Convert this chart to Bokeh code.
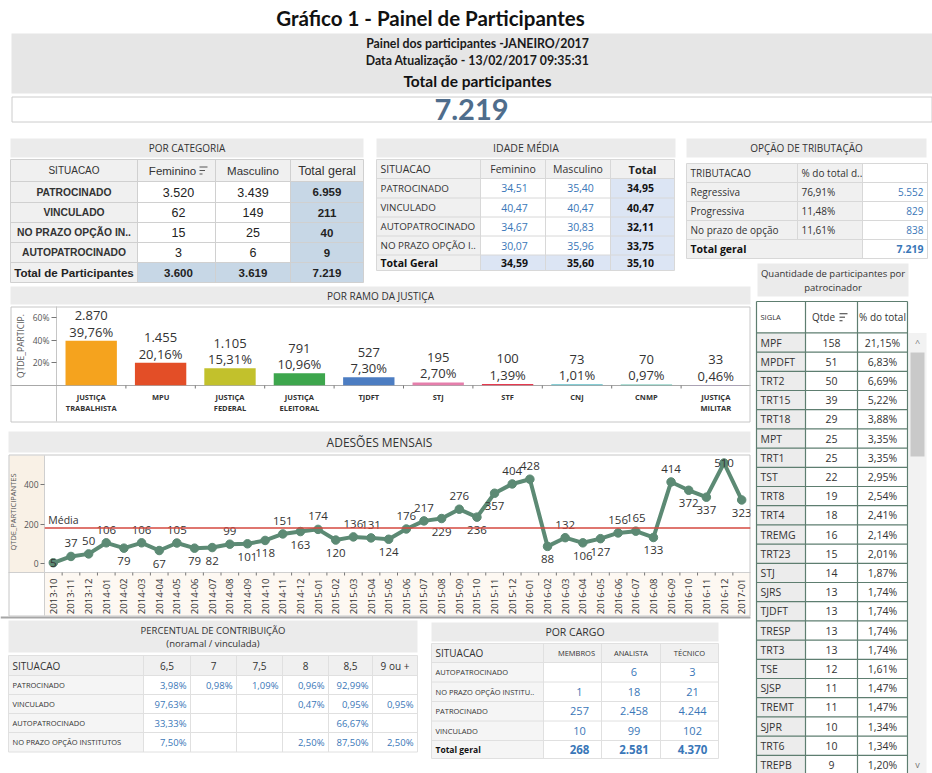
import math
import json
from bokeh.plotting import figure
from bokeh.models import (ColumnDataSource, Range1d, FactorRange, GridBox, FixedTicker,
                          NumeralTickFormatter, CategoricalAxis, Span, CustomJSTickFormatter)
from bokeh.core.properties import value
from bokeh.embed import file_html
from bokeh.resources import INLINE

# ------------------------------------------------------------------ DATA
titulo = "Gráfico 1 - Painel de Participantes"
painel_linhas = ["Painel dos participantes -JANEIRO/2017",
                 "Data Atualização - 13/02/2017 09:35:31",
                 "Total de participantes"]

cat_colunas = ["SITUACAO", "Feminino", "Masculino", "Total geral"]
cat_situacao = ["PATROCINADO", "VINCULADO", "NO PRAZO OPÇÃO IN..", "AUTOPATROCINADO"]
cat_feminino = [3520, 62, 15, 3]
cat_masculino = [3439, 149, 25, 6]

idade_colunas = ["SITUACAO", "Feminino", "Masculino", "Total"]
idade_situacao = ["PATROCINADO", "VINCULADO", "AUTOPATROCINADO", "NO PRAZO OPÇÃO I.."]
idade_feminino = [34.51, 40.47, 34.67, 30.07]
idade_masculino = [35.40, 40.47, 30.83, 35.96]
idade_total = [34.95, 40.47, 32.11, 33.75]
idade_total_geral = [34.59, 35.60, 35.10]

trib_colunas = ["TRIBUTACAO", "% do total d.."]
trib_tipo = ["Regressiva", "Progressiva", "No prazo de opção"]
trib_pct = [76.91, 11.48, 11.61]
trib_qtde = [5552, 829, 838]

ramo_cats = ["JUSTIÇA TRABALHISTA", "MPU", "JUSTIÇA FEDERAL", "JUSTIÇA ELEITORAL", "TJDFT",
             "STJ", "STF", "CNJ", "CNMP", "JUSTIÇA MILITAR"]
ramo_rotulo_l1 = ["JUSTIÇA", "MPU", "JUSTIÇA", "JUSTIÇA", "TJDFT", "STJ", "STF", "CNJ", "CNMP", "JUSTIÇA"]
ramo_rotulo_l2 = ["TRABALHISTA", "", "FEDERAL", "ELEITORAL", "", "", "", "", "", "MILITAR"]
ramo_qtde = [2870, 1455, 1105, 791, 527, 195, 100, 73, 70, 33]
ramo_pct = [39.76, 20.16, 15.31, 10.96, 7.30, 2.70, 1.39, 1.01, 0.97, 0.46]
ramo_yticks = [0.2, 0.4, 0.6]

meses = ["2013-10", "2013-11", "2013-12",
         "2014-01", "2014-02", "2014-03", "2014-04", "2014-05", "2014-06",
         "2014-07", "2014-08", "2014-09", "2014-10", "2014-11", "2014-12",
         "2015-01", "2015-02", "2015-03", "2015-04", "2015-05", "2015-06",
         "2015-07", "2015-08", "2015-09", "2015-10", "2015-11", "2015-12",
         "2016-01", "2016-02", "2016-03", "2016-04", "2016-05", "2016-06",
         "2016-07", "2016-08", "2016-09", "2016-10", "2016-11", "2016-12",
         "2017-01"]
adesoes = [5, 37, 50, 106, 79, 106, 67, 105, 79, 82, 99, 101, 118, 151, 163, 174, 120, 136, 131, 124,
           176, 217, 229, 276, 236, 357, 404, 428, 88, 132, 106, 127, 156, 165, 133, 414, 372, 337, 510, 323]
adesoes_yticks = [0, 200, 400]

pc_colunas = ["6,5", "7", "7,5", "8", "8,5", "9 ou +"]
pc_situacao = ["PATROCINADO", "VINCULADO", "AUTOPATROCINADO", "NO PRAZO OPÇÃO INSTITUTOS"]
pc_patrocinado = [3.98, 0.98, 1.09, 0.96, 92.99, None]
pc_vinculado = [97.63, None, None, 0.47, 0.95, 0.95]
pc_autopatrocinado = [33.33, None, None, None, 66.67, None]
pc_no_prazo = [7.50, None, None, 2.50, 87.50, 2.50]

cargo_colunas = ["SITUACAO", "MEMBROS", "ANALISTA", "TÉCNICO"]
cargo_situacao = ["AUTOPATROCINADO", "NO PRAZO OPÇÃO INSTITU..", "PATROCINADO", "VINCULADO"]
cargo_membros = [None, 1, 257, 10]
cargo_analista = [6, 18, 2458, 99]
cargo_tecnico = [3, 21, 4244, 102]

patroc_sigla = ["MPF", "MPDFT", "TRT2", "TRT15", "TRT18", "MPT", "TRT1", "TST", "TRT8", "TRT4",
                "TREMG", "TRT23", "STJ", "SJRS", "TJDFT", "TRESP", "TRT3", "TSE", "SJSP", "TREMT",
                "SJPR", "TRT6", "TREPB"]
patroc_qtde = [158, 51, 50, 39, 29, 25, 25, 22, 19, 18, 16, 15, 14, 13, 13, 13, 13, 12, 11, 11, 10, 10, 9]
patroc_pct = [21.15, 6.83, 6.69, 5.22, 3.88, 3.35, 3.35, 2.95, 2.54, 2.41, 2.14, 2.01, 1.87, 1.74,
              1.74, 1.74, 1.74, 1.61, 1.47, 1.47, 1.34, 1.34, 1.20]

# ------------------------------------------------------------------ STYLE
SEG = "Open Sans"
ARI = "Liberation Sans"
CAL = "Lato"
BAND = "#ebebeb"
HDR = "#f0f0f0"
BLUE = "#3a77b8"
LBLUE = "#c7d7e6"
LAV = "#dce5f4"
GREEN_B = "#5e7e70"
ramo_cores = ["#f5a31e", "#e34e27", "#c2c12c", "#3da64d", "#4c7dc2", "#e57eab", "#e63a4f",
              "#5fbcc6", "#62bfae", "#b08ed6"]
VERDE = "#5c8a74"
adesoes_rotulo_pos = ["c", "a", "a", "a", "b", "a", "b", "a", "b", "b",
                      "a", "b", "b", "a", "b", "a", "b", "a", "a", "b",
                      "a", "a", "b", "a", "b", "b", "a", "a", "b", "a",
                      "b", "b", "a", "a", "b", "a", "b", "b", "c", "b"]

# chart frames (page pixels)
BAR_L, BAR_R, BAR_T, BAR_B = 56, 750, 306, 385
LIN_L, LIN_R, LIN_T, LIN_B = 44, 750, 455, 572


def br_int(n):
    return f"{n:,}".replace(",", ".")


def br_dec(v):
    return f"{v:.2f}".replace(".", ",")


def br_pct(v):
    return br_dec(v) + "%"


# ------------------------------------------------------------------ BACKGROUND CANVAS
W, H = 932, 773
Q = dict(l=[], r=[], t=[], b=[], c=[])
O = dict(l=[], r=[], t=[], b=[], c=[])
S = dict(x0=[], y0=[], x1=[], y1=[], c=[], w=[])
T = dict(x=[], y=[], s=[], size=[], style=[], color=[], align=[], font=[])


def fill(x0, y0, x1, y1, c):
    Q["l"].append(x0); Q["r"].append(x1); Q["t"].append(y0); Q["b"].append(y1); Q["c"].append(c)


def outline(x0, y0, x1, y1, c):
    O["l"].append(x0); O["r"].append(x1); O["t"].append(y0); O["b"].append(y1); O["c"].append(c)


def seg(x0, y0, x1, y1, c, w=1.0):
    S["x0"].append(x0); S["y0"].append(y0); S["x1"].append(x1); S["y1"].append(y1)
    S["c"].append(c); S["w"].append(w)


def txt(x, y, s, size, style="normal", color="#333333", align="center", font=SEG):
    T["x"].append(x); T["y"].append(y); T["s"].append(s); T["size"].append(f"{size}px")
    T["style"].append(style); T["color"].append(color); T["align"].append(align); T["font"].append(font)


def grid_lines(xs, ys, c, w=1.0):
    for y in ys:
        seg(xs[0], y, xs[-1], y, c, w)
    for x in xs:
        seg(x, ys[0], x, ys[-1], c, w)


def sort_icon(x, y):
    seg(x, y - 3.5, x + 8, y - 3.5, "#555555", 1.2)
    seg(x, y, x + 5.5, y, "#555555", 1.2)
    seg(x, y + 3.5, x + 3, y + 3.5, "#555555", 1.2)


total_part = sum(cat_feminino) + sum(cat_masculino)

# header
txt(430, 17, titulo, 20.5, "bold", "#111111", font=CAL)
fill(11, 33, 932, 93, "#e6e6e6")
txt(477, 43, painel_linhas[0], 12.3, "bold", "#1a1a1a", font=CAL)
txt(477, 60, painel_linhas[1], 12.3, "bold", "#1a1a1a", font=CAL)
txt(477, 80, painel_linhas[2], 15.5, "bold", "#111111", font=CAL)
fill(11, 96, 932, 121, "#ffffff")
outline(11.5, 96.5, 931.5, 121.5, "#cccccc")
txt(471, 109, br_int(total_part), 29, "bold", "#4f6d8c", font=CAL)

# POR CATEGORIA
fill(10, 138, 363, 157, BAND)
txt(186.5, 147.5, "POR CATEGORIA", 10)
cx = [10, 137, 215, 290, 363]
cy = [159, 181, 202, 222, 242, 262, 282]
fill(cx[0], cy[0], cx[4], cy[1], HDR)
ym = (cy[0] + cy[1]) / 2
txt(73.5, ym, cat_colunas[0], 10, font=ARI)
txt(172, ym, cat_colunas[1], 11.5, font=ARI)
sort_icon(199, ym)
txt(252.5, ym, cat_colunas[2], 11.5, font=ARI)
txt(326.5, ym, cat_colunas[3], 12.5, font=ARI)
for i, lab in enumerate(cat_situacao):
    y0, y1 = cy[i + 1], cy[i + 2]
    ym = (y0 + y1) / 2
    fill(cx[0], y0, cx[1], y1, HDR)
    fill(cx[1], y0, cx[3], y1, "#ffffff")
    fill(cx[3], y0, cx[4], y1, LBLUE)
    txt(73.5, ym, lab, 10.3, "bold", "#333333", font=ARI)
    txt(178, ym, br_int(cat_feminino[i]), 12.5, color="#222222", font=ARI)
    txt(252.5, ym, br_int(cat_masculino[i]), 12.5, color="#222222", font=ARI)
    txt(326.5, ym, br_int(cat_feminino[i] + cat_masculino[i]), 11.5, "bold", "#222222", font=ARI)
y0, y1 = cy[5], cy[6]
ym = (y0 + y1) / 2
fill(cx[0], y0, cx[1], y1, HDR)
fill(cx[1], y0, cx[4], y1, LBLUE)
txt(73.5, ym, "Total de Participantes", 11.6, "bold", "#222222", font=ARI)
txt(178, ym, br_int(sum(cat_feminino)), 11.5, "bold", "#222222", font=ARI)
txt(252.5, ym, br_int(sum(cat_masculino)), 11.5, "bold", "#222222", font=ARI)
txt(326.5, ym, br_int(total_part), 11.5, "bold", "#222222", font=ARI)
grid_lines(cx, cy, "#d0d0d0")

# IDADE MÉDIA
fill(376, 138, 675, 157, BAND)
txt(525.5, 147.5, "IDADE MÉDIA", 10.5)
ix = [376, 480, 545, 610, 674]
iy = [159, 178, 197.5, 216.5, 235.5, 254.5, 270]
fill(ix[0], iy[0], ix[4], iy[1], HDR)
ym = (iy[0] + iy[1]) / 2
txt(380, ym, idade_colunas[0], 10.5, align="left")
txt(512.5, ym, idade_colunas[1], 10.5)
txt(577.5, ym, idade_colunas[2], 10.5)
txt(642, ym, idade_colunas[3], 11, "bold", "#222222")
for i, lab in enumerate(idade_situacao):
    y0, y1 = iy[i + 1], iy[i + 2]
    ym = (y0 + y1) / 2
    fill(ix[0], y0, ix[1], y1, HDR)
    fill(ix[1], y0, ix[3], y1, "#ffffff")
    fill(ix[3], y0, ix[4], y1, LAV)
    txt(380, ym, lab, 9.8, align="left")
    txt(514, ym, br_dec(idade_feminino[i]), 10.5, color=BLUE)
    txt(580, ym, br_dec(idade_masculino[i]), 10.5, color=BLUE)
    txt(640, ym, br_dec(idade_total[i]), 10.5, "bold", "#111111")
y0, y1 = iy[5], iy[6]
ym = (y0 + y1) / 2
fill(ix[0], y0, ix[1], y1, HDR)
fill(ix[1], y0, ix[4], y1, LAV)
txt(380, ym, "Total Geral", 10.5, "bold", "#111111", align="left")
for k, xc in enumerate([514, 580, 640]):
    txt(xc, ym, br_dec(idade_total_geral[k]), 10.5, "bold", "#111111")
grid_lines(ix, iy, "#d8d8d8")

# OPÇÃO DE TRIBUTAÇÃO
fill(686, 138, 926, 157, BAND)
txt(806, 147.5, "OPÇÃO DE TRIBUTAÇÃO", 10)
ox = [686, 797, 862, 927]
oy = [163, 182, 201, 220, 239, 258]
fill(ox[0], oy[0], ox[2], oy[1], HDR)
fill(ox[2], oy[0], ox[3], oy[1], "#ffffff")
ym = (oy[0] + oy[1]) / 2
txt(690, ym, trib_colunas[0], 10, align="left")
txt(801, ym, trib_colunas[1], 10, align="left")
for i, lab in enumerate(trib_tipo):
    y0, y1 = oy[i + 1], oy[i + 2]
    ym = (y0 + y1) / 2
    fill(ox[0], y0, ox[2], y1, HDR)
    fill(ox[2], y0, ox[3], y1, "#ffffff")
    txt(690, ym, lab, 10, align="left")
    txt(801, ym, br_pct(trib_pct[i]), 10, align="left")
    txt(923, ym, br_int(trib_qtde[i]), 10, color=BLUE, align="right")
y0, y1 = oy[4], oy[5]
ym = (y0 + y1) / 2
fill(ox[0], y0, ox[2], y1, HDR)
fill(ox[2], y0, ox[3], y1, "#ffffff")
txt(690, ym, "Total geral", 10.5, "bold", "#111111", align="left")
txt(923, ym, br_int(sum(trib_qtde)), 10.5, "bold", BLUE, align="right")
for y in oy:
    seg(ox[0], y, ox[3], y, "#d8d8d8")
for x in (ox[0], ox[2], ox[3]):
    seg(x, oy[0], x, oy[-1], "#d8d8d8")
seg(ox[1], oy[0], ox[1], oy[4], "#d8d8d8")

# QUANTIDADE POR PATROCINADOR
fill(757, 263, 908, 296, BAND)
txt(832.5, 273, "Quantidade de participantes por", 9.5)
txt(832.5, 287, "patrocinador", 9.5)
px = [756, 805, 857, 907]
ph0, ph1, rh = 301, 332.4, 19.2
fill(px[0], ph0, px[3], ph1, "#ffffff")
ym = (ph0 + ph1) / 2
txt(760, ym, "SIGLA", 7.5, align="left")
txt(823, ym, "Qtde", 10)
sort_icon(839, ym)
txt(882, ym, "% do total", 10)
pys = [ph0, ph1]
for i, sg in enumerate(patroc_sigla):
    y0 = ph1 + i * rh
    y1 = y0 + rh
    pys.append(y1)
    ym = (y0 + y1) / 2
    fill(px[0], y0, px[1], y1, "#ececec")
    fill(px[1], y0, px[3], y1, "#ffffff")
    txt(760, ym, sg, 10.5, align="left")
    txt(831, ym, str(patroc_qtde[i]), 10.5)
    txt(882, ym, br_pct(patroc_pct[i]), 10.5)
grid_lines(px, pys, GREEN_B, 1.2)
fill(908, 332.4, 926, 773, "#f2f2f2")
fill(910, 352, 924, 456, "#c9c9c9")
txt(917, 342, "^", 9, color="#777777")
txt(917, 764, "v", 9, color="#777777")

# POR RAMO DA JUSTIÇA panel decoration
fill(10, 286, 750, 304, BAND)
txt(380, 295, "POR RAMO DA JUSTIÇA", 10)
outline(10.5, 306.5, 749.5, 421.5, "#c6c6c6")
seg(BAR_L, BAR_T, BAR_L, 421, "#c6c6c6")
seg(10, BAR_B, 750, BAR_B, "#a8a8a8")
nb = len(ramo_cats)
for k in range(1, nb):
    xk = BAR_L + k * (BAR_R - BAR_L) / nb
    seg(xk, BAR_B, xk, BAR_B + 3, "#777777")

# ADESÕES MENSAIS panel decoration
fill(8, 431, 750, 452, BAND)
txt(379, 441.5, "ADESÕES MENSAIS", 12)
fill(9, LIN_T, LIN_L, LIN_B, "#f9f1e6")
fill(LIN_L, LIN_B, 750, 615, "#fdf8f2")
outline(8.5, 454.5, 749.5, 615.5, "#c6c6c6")
seg(LIN_L, LIN_T, LIN_L, 615, "#cfcfcf")
seg(8, LIN_B, 750, LIN_B, "#cfcfcf")
seg(0, 617, 750, 617, "#a6a6a6", 2)
nm = len(meses)
for k in range(1, nm):
    xk = LIN_L + k * (LIN_R - LIN_L) / nm
    seg(xk, LIN_B, xk, LIN_B + 3, "#777777")

# PERCENTUAL DE CONTRIBUIÇÃO
fill(8, 620, 417, 652, BAND)
txt(212.5, 630, "PERCENTUAL DE CONTRIBUIÇÃO", 9.5)
txt(212.5, 643, "(noramal / vinculada)", 9.5)
qx = [8, 143, 190, 236, 282, 328, 372, 417]
qy = [655, 675, 694, 713, 732, 751.5]
fill(qx[0], qy[0], qx[-1], qy[1], HDR)
ym = (qy[0] + qy[1]) / 2
txt(12, ym, "SITUACAO", 10, align="left")
for k, col in enumerate(pc_colunas):
    txt((qx[k + 1] + qx[k + 2]) / 2, ym, col, 10)
pc_linhas = [pc_patrocinado, pc_vinculado, pc_autopatrocinado, pc_no_prazo]
for i, lab in enumerate(pc_situacao):
    y0, y1 = qy[i + 1], qy[i + 2]
    ym = (y0 + y1) / 2
    fill(qx[0], y0, qx[1], y1, "#f5f5f5")
    fill(qx[1], y0, qx[-1], y1, "#ffffff")
    txt(12, ym, lab, 7.5, align="left")
    for k, v in enumerate(pc_linhas[i]):
        if v is not None:
            txt(qx[k + 2] - 4, ym, br_pct(v), 9.5, color=BLUE, align="right")
grid_lines(qx, qy, "#e0e0e0")

# POR CARGO
fill(431, 622, 718, 641, BAND)
txt(574.5, 631.5, "POR CARGO", 10.5)
gx = [431, 543, 601, 660, 718]
gy = [643, 662, 681.5, 701, 720.5, 740, 758]
fill(gx[0], gy[0], gx[-1], gy[1], HDR)
ym = (gy[0] + gy[1]) / 2
txt(435, ym, cargo_colunas[0], 10, align="left")
gcent = [576, 630.5, 689]
for k in range(3):
    txt(gcent[k], ym, cargo_colunas[k + 1], 7.5)
cargo_cols = [cargo_membros, cargo_analista, cargo_tecnico]
for i, lab in enumerate(cargo_situacao):
    y0, y1 = gy[i + 1], gy[i + 2]
    ym = (y0 + y1) / 2
    fill(gx[0], y0, gx[1], y1, "#f5f5f5")
    fill(gx[1], y0, gx[-1], y1, "#ffffff")
    txt(435, ym, lab, 7.5, align="left")
    for k in range(3):
        v = cargo_cols[k][i]
        if v is not None:
            txt(gcent[k] + 3, ym, br_int(v), 11, color=BLUE)
y0, y1 = gy[5], gy[6]
ym = (y0 + y1) / 2
fill(gx[0], y0, gx[1], y1, "#f5f5f5")
fill(gx[1], y0, gx[-1], y1, "#ffffff")
txt(435, ym, "Total geral", 8.5, "bold", "#111111", align="left")
for k in range(3):
    tot = sum(v for v in cargo_cols[k] if v is not None)
    txt(gcent[k] + 3, ym, br_int(tot), 11.5, "bold", BLUE)
grid_lines(gx, gy, "#e0e0e0")

bg = figure(width=W, height=H, x_range=Range1d(0, W), y_range=Range1d(H, 0),
            output_backend="svg", toolbar_location=None, min_border=0,
            x_axis_location=None, y_axis_location=None, outline_line_color=None)
bg.frame_align = False
bg.grid.visible = False
bg.quad(left="l", right="r", top="t", bottom="b", fill_color="c", line_color=None,
        source=ColumnDataSource(Q))
bg.segment(x0="x0", y0="y0", x1="x1", y1="y1", line_color="c", line_width="w",
           source=ColumnDataSource(S))
bg.quad(left="l", right="r", top="t", bottom="b", fill_color=None, line_color="c",
        source=ColumnDataSource(O))
bg.text(x="x", y="y", text="s", text_font="font", text_font_size="size",
        text_font_style="style", text_color="color", text_align="align",
        text_baseline="middle", source=ColumnDataSource(T))

# ------------------------------------------------------------------ BAR CHART
BAR_TOP_ROW = 304
bar = figure(width=752, height=121, x_range=FactorRange(factors=ramo_cats),
             y_range=Range1d(0, 0.70), output_backend="svg", toolbar_location=None,
             x_axis_location=None, y_axis_location="left",
             min_border_left=BAR_L, min_border_right=752 - BAR_R,
             min_border_top=BAR_T - BAR_TOP_ROW, min_border_bottom=BAR_TOP_ROW + 121 - BAR_B,
             background_fill_color=None, border_fill_color=None, outline_line_color=None)
bar.frame_align = False
bar.grid.visible = False
ya = bar.yaxis[0]
ya.ticker = FixedTicker(ticks=ramo_yticks)
ya.formatter = NumeralTickFormatter(format="0%")
ya.axis_label = "QTDE_PARTICIP."
ya.axis_label_text_font = SEG
ya.axis_label_text_font_size = "8.5px"
ya.axis_label_text_font_style = "normal"
ya.axis_label_text_color = "#555555"
ya.axis_label_standoff = 4
ya.major_label_text_font = SEG
ya.major_label_text_font_size = "8.5px"
ya.major_label_text_color = "#555555"
ya.major_label_standoff = 2
ya.major_tick_out = 5
ya.major_tick_in = 0
ya.major_tick_line_color = "#777777"
ya.minor_tick_line_color = None
ya.axis_line_color = None

for rot, stand in ((ramo_rotulo_l1, 6), (ramo_rotulo_l2, -2)):
    mapa = json.dumps(dict(zip(ramo_cats, rot)), ensure_ascii=False)
    fmt = CustomJSTickFormatter(code="const m = " + mapa + "; return (tick in m) ? m[tick] : tick;")
    ax_c = CategoricalAxis(formatter=fmt,
                           major_label_text_font=SEG, major_label_text_font_size="7.5px",
                           major_label_text_font_style="bold", major_label_text_color="#333333",
                           major_label_standoff=stand, major_tick_line_color=None,
                           major_tick_out=0, major_tick_in=0, axis_line_color=None)
    bar.add_layout(ax_c, "below")

ramo_frac = [p / 100 for p in ramo_pct]
bar.vbar(x=ramo_cats, top=ramo_frac, width=0.74, fill_color=ramo_cores, line_color=None)
bar.text(x=ramo_cats, y=ramo_frac, text=[br_pct(p) for p in ramo_pct], y_offset=-9,
         text_align="center", text_baseline="middle", text_font=value(SEG),
         text_font_size="13px", text_color="#333333")
bar.text(x=ramo_cats, y=ramo_frac, text=[br_int(q) for q in ramo_qtde], y_offset=-25,
         text_align="center", text_baseline="middle", text_font=value(SEG),
         text_font_size="13px", text_color="#333333")

# ------------------------------------------------------------------ LINE CHART
LIN_TOP_ROW = 453
lf = figure(width=752, height=164, x_range=FactorRange(factors=meses),
            y_range=Range1d(-24, 548), output_backend="svg", toolbar_location=None,
            x_axis_location=None, y_axis_location="left",
            min_border_left=LIN_L, min_border_right=752 - LIN_R,
            min_border_top=LIN_T - LIN_TOP_ROW, min_border_bottom=LIN_TOP_ROW + 164 - LIN_B,
            background_fill_color=None, border_fill_color=None, outline_line_color=None)
lf.frame_align = False
lf.grid.visible = False
ly = lf.yaxis[0]
ly.ticker = FixedTicker(ticks=adesoes_yticks)
ly.axis_label = "QTDE_PARTICIPANTES"
ly.axis_label_text_font = SEG
ly.axis_label_text_font_size = "7.5px"
ly.axis_label_text_font_style = "normal"
ly.axis_label_text_color = "#555555"
ly.axis_label_standoff = 3
ly.major_label_text_font = SEG
ly.major_label_text_font_size = "8.5px"
ly.major_label_text_color = "#555555"
ly.major_label_standoff = 2
ly.major_tick_out = 4
ly.major_tick_in = 0
ly.major_tick_line_color = "#777777"
ly.minor_tick_line_color = None
ly.axis_line_color = None

lx_c = CategoricalAxis(major_label_orientation=math.pi / 2, major_label_text_font=SEG,
                       major_label_text_font_size="9.5px", major_label_text_color="#333333",
                       major_label_standoff=4, major_tick_line_color=None, axis_line_color=None)
lf.add_layout(lx_c, "below")

media = sum(adesoes) / len(adesoes)
lf.add_layout(Span(location=media, dimension="width", line_color="#d5483f", line_width=1.5))
lf.text(x=[meses[0]], y=[media], text=["Média"], x_offset=-5, y_offset=-8,
        text_align="left", text_baseline="middle", text_font=value(SEG),
        text_font_size="10.5px", text_color="#333333")
lf.line(x=meses, y=adesoes, line_color=VERDE, line_width=4, line_join="round")
lf.scatter(x=meses, y=adesoes, size=8.5, fill_color=VERDE, line_color=VERDE)
offs = {"a": -13, "b": 13, "c": 0}
lf.text(x=meses, y=adesoes, text=[str(v) for v in adesoes],
        y_offset=[offs[p] for p in adesoes_rotulo_pos],
        text_align="center", text_baseline="middle", text_font=value(SEG),
        text_font_size="11.5px", text_color="#333333")

# ------------------------------------------------------------------ LAYOUT
layout = GridBox(children=[(bg, 0, 0, 5, 2), (bar, 1, 0), (lf, 3, 0)],
                 rows=["304px", "121px", "28px", "164px", "156px"],
                 cols=["752px", "180px"], spacing=0)

open("out.html", "w", encoding="utf-8").write(file_html(layout, INLINE))
